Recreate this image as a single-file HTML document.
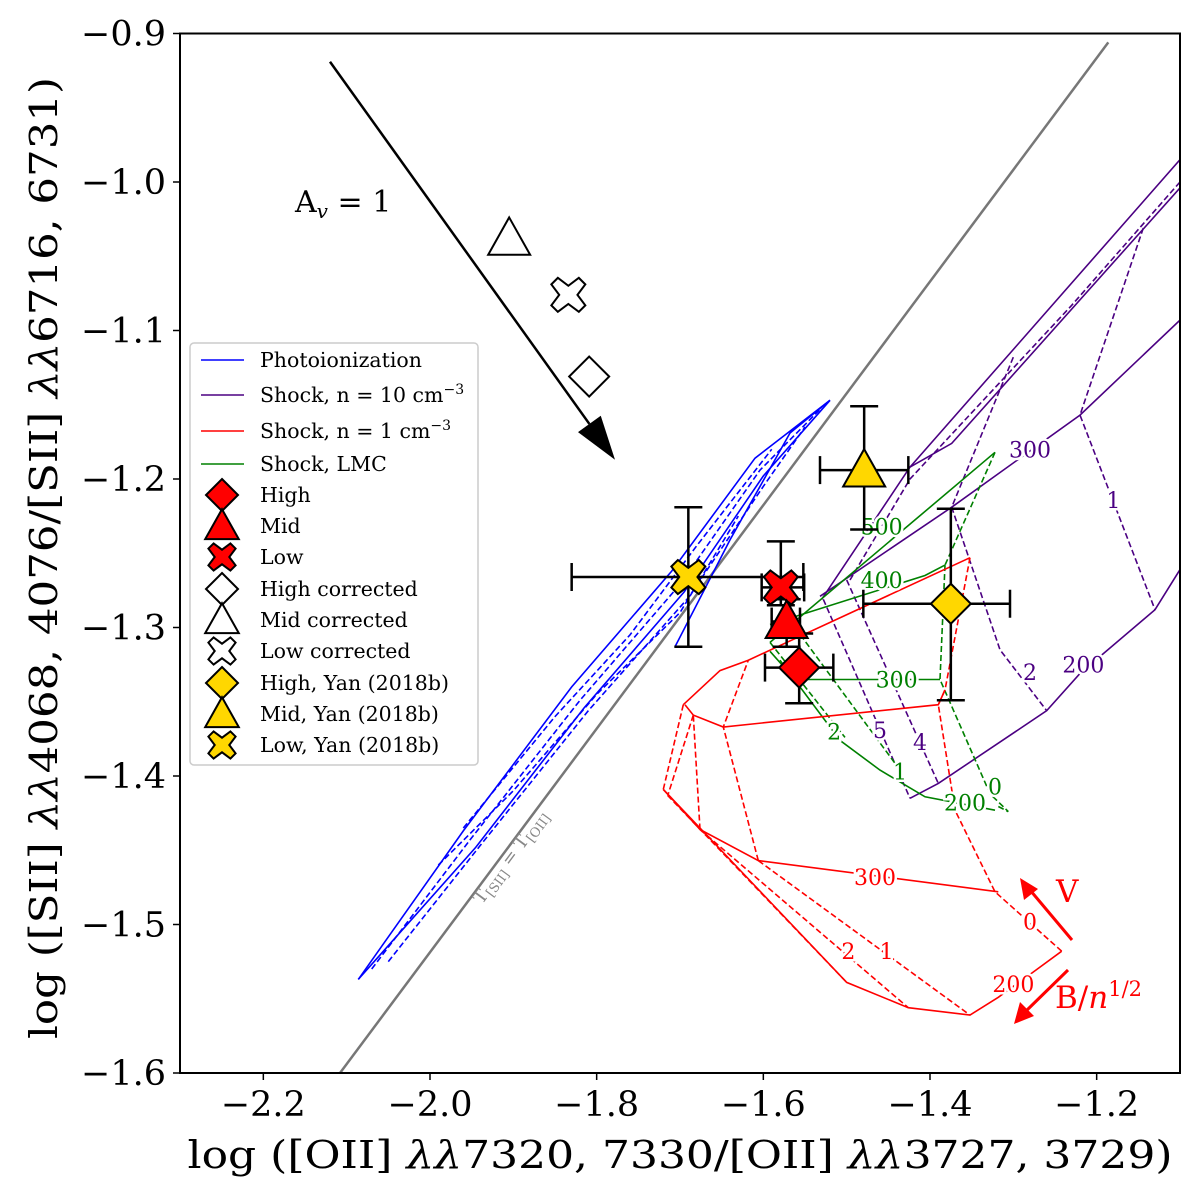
<!DOCTYPE html>
<html><head><meta charset="utf-8"><style>
html,body{margin:0;padding:0;background:#fff;}
svg{display:block;font-family:"DejaVu Serif","Liberation Serif",serif;}
</style></head><body>
<svg id="c" width="1200" height="1200" viewBox="0 0 1200 1200" xmlns="http://www.w3.org/2000/svg"></svg>
<script>
const xTicks=[-2.2,-2.0,-1.8,-1.6,-1.4,-1.2];
const xTickLabels=["−2.2","−2.0","−1.8","−1.6","−1.4","−1.2"];
const yTicks=[-0.9,-1.0,-1.1,-1.2,-1.3,-1.4,-1.5,-1.6];
const yTickLabels=["−0.9","−1.0","−1.1","−1.2","−1.3","−1.4","−1.5","−1.6"];
const equalityLine=[[-2.108,-1.6],[-1.186,-0.906]];
const extinctionArrow=[[-2.12,-0.919],[-1.778,-1.187]];
const photoLines=[
 {d:false,p:[[-2.086,-1.537],[-1.96,-1.437],[-1.83,-1.34],[-1.71,-1.262],[-1.61,-1.186],[-1.52,-1.147]]},
 {d:false,p:[[-2.086,-1.537],[-1.945,-1.448],[-1.815,-1.354],[-1.695,-1.276],[-1.6,-1.198],[-1.52,-1.147]]},
 {d:false,p:[[-1.706,-1.313],[-1.64,-1.241],[-1.568,-1.169],[-1.52,-1.147]]},
 {d:true,p:[[-2.07,-1.53],[-1.952,-1.443],[-1.82,-1.349],[-1.7,-1.271],[-1.604,-1.194],[-1.53,-1.152]]},
 {d:true,p:[[-2.05,-1.525],[-1.94,-1.447],[-1.81,-1.356],[-1.69,-1.28],[-1.6,-1.205],[-1.55,-1.165]]},
 {d:true,p:[[-1.99,-1.46],[-1.9,-1.41],[-1.8,-1.345],[-1.7,-1.29],[-1.63,-1.225]]},
 {d:true,p:[[-1.96,-1.435],[-1.85,-1.36],[-1.76,-1.305],[-1.68,-1.245],[-1.59,-1.18]]}
];
const shock10Solid=[
 [[-1.53,-1.281],[-1.424,-1.192],[-1.1,-0.985]],
 [[-1.424,-1.192],[-1.374,-1.176],[-1.1,-1.004]],
 [[-1.532,-1.279],[-1.374,-1.219],[-1.22,-1.157],[-1.1,-1.093]],
 [[-1.424,-1.415],[-1.39,-1.405],[-1.26,-1.356],[-1.22,-1.331],[-1.13,-1.288],[-1.1,-1.261]]
];
const shock10Dashed=[
 [[-1.144,-1.031],[-1.22,-1.157],[-1.13,-1.288]],
 [[-1.3,-1.118],[-1.374,-1.219],[-1.316,-1.315],[-1.26,-1.356]],
 [[-1.5,-1.268],[-1.39,-1.405]],
 [[-1.528,-1.281],[-1.424,-1.415]],
 [[-1.1,-1.0],[-1.23,-1.083],[-1.424,-1.2],[-1.496,-1.268]]
];
const shock10Labels=[["300",-1.28,-1.18],["200",-1.216,-1.325],["1",-1.18,-1.214],["2",-1.28,-1.33],["4",-1.412,-1.377],["5",-1.46,-1.369]];
const lmcSolid=[
 [[-1.592,-1.31],[-1.322,-1.182]],
 [[-1.592,-1.298],[-1.406,-1.265],[-1.382,-1.258]],
 [[-1.592,-1.316],[-1.562,-1.335],[-1.388,-1.335]],
 [[-1.58,-1.322],[-1.508,-1.376],[-1.46,-1.396],[-1.406,-1.414],[-1.322,-1.423]]
];
const lmcDashed=[
 [[-1.592,-1.31],[-1.502,-1.374]],
 [[-1.562,-1.3],[-1.436,-1.396]],
 [[-1.382,-1.258],[-1.388,-1.335],[-1.328,-1.412],[-1.306,-1.424],[-1.32,-1.42]],
 [[-1.322,-1.182],[-1.382,-1.258]]
];
const lmcLabels=[["500",-1.458,-1.232],["400",-1.458,-1.268],["300",-1.44,-1.335],["200",-1.358,-1.418],["2",-1.515,-1.37],["1",-1.436,-1.397],["0",-1.322,-1.407]];
const shock1Solid=[
 [[-1.696,-1.352],[-1.652,-1.329],[-1.618,-1.322],[-1.352,-1.253]],
 [[-1.694,-1.352],[-1.684,-1.359],[-1.648,-1.367],[-1.39,-1.352],[-1.382,-1.342]],
 [[-1.72,-1.409],[-1.676,-1.436],[-1.606,-1.457],[-1.318,-1.478]],
 [[-1.72,-1.409],[-1.5,-1.539],[-1.426,-1.556],[-1.352,-1.561],[-1.318,-1.549],[-1.276,-1.532],[-1.242,-1.518]]
];
const shock1Dashed=[
 [[-1.242,-1.518],[-1.322,-1.478],[-1.37,-1.423],[-1.39,-1.352],[-1.382,-1.342],[-1.352,-1.253]],
 [[-1.696,-1.352],[-1.72,-1.409]],
 [[-1.684,-1.359],[-1.714,-1.412]],
 [[-1.606,-1.457],[-1.648,-1.367],[-1.618,-1.322]],
 [[-1.606,-1.457],[-1.352,-1.561]],
 [[-1.676,-1.436],[-1.684,-1.359]],
 [[-1.676,-1.436],[-1.426,-1.556]],
 [[-1.715,-1.413],[-1.5,-1.539]]
];
const shock1Labels=[["300",-1.466,-1.468],["200",-1.3,-1.54],["0",-1.28,-1.498],["1",-1.452,-1.518],["2",-1.498,-1.518]];
const ptNames=["low-yan","mid-yan","high-yan","low","mid","high"];
const ptMarker=["x","t","d","x","t","d"];
const ptColor=["#FFD700","#FFD700","#FFD700","#FF0000","#FF0000","#FF0000"];
const ptX=[-1.69,-1.479,-1.375,-1.579,-1.572,-1.557];
const ptY=[-1.266,-1.194,-1.284,-1.273,-1.296,-1.327];
const ptXlo=[-1.83,-1.532,-1.48,-1.602,-1.59,-1.598];
const ptXhi=[-1.552,-1.426,-1.304,-1.551,-1.556,-1.516];
const ptYlo=[-1.313,-1.234,-1.349,-1.285,-1.313,-1.351];
const ptYhi=[-1.219,-1.151,-1.22,-1.242,-1.281,-1.304];
const corrMarker=["t","x","d"];
const corrX=[-1.905,-1.834,-1.809];
const corrY=[-1.038,-1.076,-1.131];

const X0=-2.3,X1=-1.1,Y0=-0.9,Y1=-1.6,L=180,R=1180,T=33.5,B=1073;
const sx=v=>L+(v-X0)/(X1-X0)*(R-L);
const sy=v=>T+(v-Y0)/(Y1-Y0)*(B-T);
const svg=document.getElementById('c');
const NS="http://www.w3.org/2000/svg";
function el(t,a,p){const e=document.createElementNS(NS,t);for(const k in a)e.setAttribute(k,a[k]);(p||svg).appendChild(e);return e;}
function pts(arr){return arr.map(q=>sx(q[0]).toFixed(1)+","+sy(q[1]).toFixed(1)).join(" ");}
function txt(s,x,y,a,p){const e=el('text',a,p);e.textContent=s;e.setAttribute('x',x);e.setAttribute('y',y);return e;}

const clip=el('clipPath',{id:'pc'});el('rect',{x:L,y:T,width:R-L,height:B-T},clip);
const plot=el('g',{'clip-path':'url(#pc)'});



let g=el('polyline',{points:pts(equalityLine),fill:'none',stroke:'#777',"stroke-width":2.5},plot);



function drawSet(arr,color,dash,name){
 arr.forEach(p=>{const e=el('polyline',{points:pts(p),fill:'none',stroke:color,'stroke-width':1.6,'stroke-dasharray':dash?'6,3':'none'},plot);
 
 });
}
photoLines.forEach(o=>drawSet([o.p],'#0000FF',o.d,'photoionization-track'));
drawSet(shock10Solid,'#4B0082',false,'shock-n10-velocity-line');
drawSet(shock10Dashed,'#4B0082',true,'shock-n10-field-line');
drawSet(lmcSolid,'#008000',false,'shock-lmc-velocity-line');
drawSet(lmcDashed,'#008000',true,'shock-lmc-field-line');
drawSet(shock1Solid,'#FF0000',false,'shock-n1-velocity-line');
drawSet(shock1Dashed,'#FF0000',true,'shock-n1-field-line');

function labels(arr,color,name){
 arr.forEach(l=>{const t=txt(l[0],sx(l[1]),sy(l[2])+8,{fill:color,'font-size':22,'text-anchor':'middle',stroke:'#fff','stroke-width':5,'paint-order':'stroke'},plot);
 
 });
}
labels(shock10Labels,'#4B0082','shock-n10-contour-label');
labels(lmcLabels,'#008000','shock-lmc-contour-label');
labels(shock1Labels,'#FF0000','shock-n1-contour-label');

const ax0=sx(extinctionArrow[0][0]),ay0=sy(extinctionArrow[0][1]),ax1=sx(extinctionArrow[1][0]),ay1=sy(extinctionArrow[1][1]);
const ang=Math.atan2(ay1-ay0,ax1-ax0),hl=44,hw=14;
const bx=ax1-hl*Math.cos(ang),by=ay1-hl*Math.sin(ang);
let a=el('line',{x1:ax0,y1:ay0,x2:bx,y2:by,stroke:'#000','stroke-width':2.5},plot);


a=el('polygon',{points:`${ax1},${ay1} ${bx-hw*Math.sin(ang)},${by+hw*Math.cos(ang)} ${bx+hw*Math.sin(ang)},${by-hw*Math.cos(ang)}`,fill:'#000'},plot);



function marker(type,cx,cy,fill,parent,s){
 s=s||1;let e;
 if(type==='d'){const r=20*s;e=el('polygon',{points:`${cx},${cy-r} ${cx+r},${cy} ${cx},${cy+r} ${cx-r},${cy}`,fill:fill,stroke:'#000','stroke-width':2},parent);}
 else if(type==='t'){const r=21*s;e=el('polygon',{points:`${cx},${cy-r} ${cx+r},${cy+r*0.78} ${cx-r},${cy+r*0.78}`,fill:fill,stroke:'#000','stroke-width':2},parent);}
 else {const r=17*s,w=6.5*s;const P=[[-r+w,-r],[0,-w*1.4],[r-w,-r],[r,-r+w],[w*1.4,0],[r,r-w],[r-w,r],[0,w*1.4],[-r+w,r],[-r,r-w],[-w*1.4,0],[-r,-r+w]];
  e=el('polygon',{points:P.map(p=>(cx+p[0])+","+(cy+p[1])).join(" "),fill:fill,stroke:'#000','stroke-width':2},parent);}
 return e;
}
corrX.forEach((v,i)=>{const m=marker(corrMarker[i],sx(v),sy(corrY[i]),'#fff',plot);
 
 });
ptX.forEach((v,i)=>{
 const gg=el('g',{stroke:'#000','stroke-width':2.5},plot);
 
 
 const cx=sx(v),cy=sy(ptY[i]),xl=sx(ptXlo[i]),xh=sx(ptXhi[i]),yl=sy(ptYlo[i]),yh=sy(ptYhi[i]);
 el('line',{x1:xl,y1:cy,x2:xh,y2:cy},gg);el('line',{x1:cx,y1:yl,x2:cx,y2:yh},gg);
 el('line',{x1:xl,y1:cy-14,x2:xl,y2:cy+14},gg);el('line',{x1:xh,y1:cy-14,x2:xh,y2:cy+14},gg);
 el('line',{x1:cx-14,y1:yl,x2:cx+14,y2:yl},gg);el('line',{x1:cx-14,y1:yh,x2:cx+14,y2:yh},gg);
});
ptX.forEach((v,i)=>{const m=marker(ptMarker[i],sx(v),sy(ptY[i]),ptColor[i],plot);
 
 });

const ar=el('g',{fill:'#FF0000',stroke:'#FF0000'},plot);


el('line',{x1:1072,y1:940,x2:1030,y2:890,'stroke-width':3},ar);
el('polygon',{points:'1020,878 1024,900 1038,889',stroke:'none'},ar);
el('line',{x1:1068,y1:970,x2:1025,y2:1012,'stroke-width':3},ar);
el('polygon',{points:'1014,1024 1020,1002 1034,1016',stroke:'none'},ar);
let t=txt('V',1056,902,{fill:'#FF0000','font-size':31,stroke:'none'},ar);


t=el('text',{x:1055,y:1008,fill:'#FF0000','font-size':31,stroke:'none'},ar);
t.innerHTML='B/<tspan font-style="italic">n</tspan><tspan font-size="21" dy="-12">1/2</tspan>';



t=el('text',{x:295,y:212,'font-size':30,fill:'#000'});
t.innerHTML='A<tspan font-size="20" dy="6" font-style="italic">v</tspan><tspan dy="-6"> = 1</tspan>';


t=el('text',{x:0,y:0,'font-size':18,fill:'#888',transform:'translate(482,905) rotate(-53.5)'});
t.innerHTML='T<tspan font-size="13" dy="4">[SII]</tspan><tspan dy="-4"> = T</tspan><tspan font-size="13" dy="4">[OII]</tspan>';



let f=el('rect',{x:L,y:T,width:R-L,height:B-T,fill:'none',stroke:'#000','stroke-width':2});


xTicks.forEach((v,i)=>{el('line',{x1:sx(v),y1:B,x2:sx(v),y2:B+7,stroke:'#000','stroke-width':1.5});
 const e=txt(xTickLabels[i],sx(v),1116,{'font-size':35,'text-anchor':'middle',fill:'#000'});
 
 });
yTicks.forEach((v,i)=>{el('line',{x1:L-7,y1:sy(v),x2:L,y2:sy(v),stroke:'#000','stroke-width':1.5});
 const e=txt(yTickLabels[i],166,sy(v)+12,{'font-size':35,'text-anchor':'end',fill:'#000'});
 
 });
t=el('text',{x:680,y:1168,'font-size':38,'text-anchor':'middle',textLength:985,lengthAdjust:'spacingAndGlyphs'});
t.innerHTML='log ([OII] <tspan font-style="italic">λλ</tspan>7320, 7330/[OII] <tspan font-style="italic">λλ</tspan>3727, 3729)';


t=el('text',{x:0,y:0,'font-size':38,'text-anchor':'middle',textLength:962,lengthAdjust:'spacingAndGlyphs',transform:'translate(57,558) rotate(-90)'});
t.innerHTML='log ([SII] <tspan font-style="italic">λλ</tspan>4068, 4076/[SII] <tspan font-style="italic">λλ</tspan>6716, 6731)';



const lg=el('g',{});


el('rect',{x:190,y:343,width:288,height:422,rx:4,fill:'#fff','fill-opacity':0.85,stroke:'#ccc','stroke-width':1.5},lg);
const legLines=[['Photoionization','#0000FF',''],['Shock, n = 10 cm','#4B0082','−3'],['Shock, n = 1 cm','#FF0000','−3'],['Shock, LMC','#008000','']];
const legY=[360,395,431,464,495,526,557,589,620,651,683,714,745];
legLines.forEach((l,i)=>{const y=legY[i];
 el('line',{x1:201,y1:y,x2:244,y2:y,stroke:l[1],'stroke-width':1.6},lg);
 const e=el('text',{x:260,y:y+7,'font-size':20.5},lg);
 e.innerHTML=l[0]+(l[2]?'<tspan font-size="14" dy="-8">'+l[2]+'</tspan>':'');
 
 });
const legPts=[['High','d','#FF0000'],['Mid','t','#FF0000'],['Low','x','#FF0000'],['High corrected','d','#fff'],['Mid corrected','t','#fff'],['Low corrected','x','#fff'],['High, Yan (2018b)','d','#FFD700'],['Mid, Yan (2018b)','t','#FFD700'],['Low, Yan (2018b)','x','#FFD700']];
legPts.forEach((l,i)=>{const y=legY[i+4];
 marker(l[1],222,y,l[2],lg,0.8);
 const e=txt(l[0],260,y+7,{'font-size':20.5},lg);
 
 });
</script>
</body></html>
